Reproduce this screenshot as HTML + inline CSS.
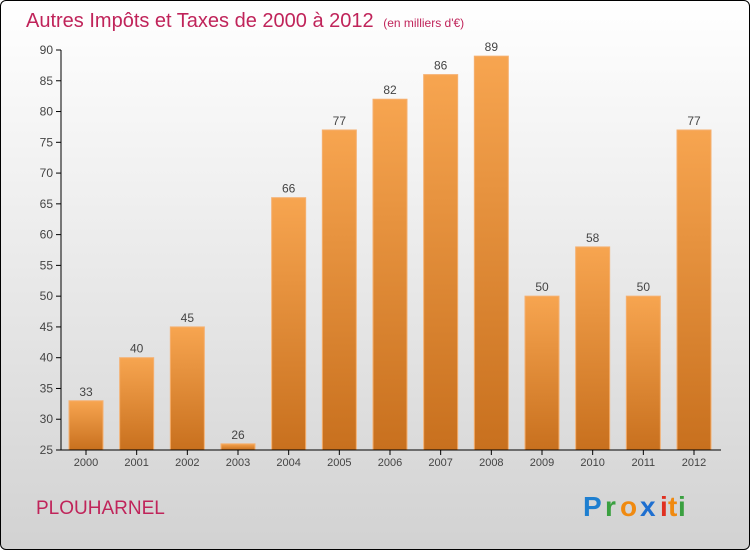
<!DOCTYPE html>
<html><head><meta charset="utf-8"><style>
body{margin:0;width:750px;height:550px;overflow:hidden;font-family:"Liberation Sans","DejaVu Sans",sans-serif}
#c{position:absolute;left:0;top:0;width:748px;height:548px;border:1px solid #000;border-radius:6px;background:linear-gradient(#ffffff,#f2f2f2 30%,#d2d2d2)}
</style></head><body>
<div id="c">
<svg width="750" height="550" style="position:absolute;left:-1px;top:-1px">
<defs><linearGradient id="g" x1="0" y1="0" x2="0" y2="1"><stop offset="0" stop-color="#f7a550"/><stop offset="1" stop-color="#c8701e"/></linearGradient></defs>
<text x="26" y="27" font-size="20" fill="#c0245a">Autres Impôts et Taxes de 2000 à 2012 <tspan font-size="12" dx="4">(en milliers d'€)</tspan></text>
<g id="plot"></g>
<text x="36" y="514" font-size="19" fill="#c0245a">PLOUHARNEL</text>
<g font-size="28" font-weight="bold">
<text x="583" y="516" fill="#1e7fd0">P</text><text x="605" y="516" fill="#3aa040">r</text><text x="620" y="516" fill="#f08a10">o</text><text x="640" y="516" fill="#1e6fd0">x</text><text x="660" y="516" fill="#e03020">i</text><text x="668" y="516" fill="#f08a10">t</text><text x="678" y="516" fill="#3aa040">i</text>
</g>
</svg></div>
<script>
const years=["2000","2001","2002","2003","2004","2005","2006","2007","2008","2009","2010","2011","2012"];
const values=[33,40,45,26,66,77,82,86,89,50,58,50,77];
const yTicks=[25,30,35,40,45,50,55,60,65,70,75,80,85,90];
const NS="http://www.w3.org/2000/svg";
const g=document.getElementById('plot');
const y=v=>450-(v-25)*400/65;
const x=i=>86+i*(608/12);
function el(t,a,txt){const e=document.createElementNS(NS,t);for(const k in a)e.setAttribute(k,a[k]);if(txt!==undefined)e.textContent=txt;g.appendChild(e);return e;}
yTicks.forEach(t=>{
 const l=el('line',{x1:56,x2:61,y1:y(t),y2:y(t),stroke:'#000'});
 
 
 const s=el('text',{x:53,y:y(t)+4,'font-size':12,fill:'#444','text-anchor':'end'},t);
 
 
});
values.forEach((v,i)=>{
 const r=el('rect',{x:x(i)-17,y:y(v),width:34,height:450-y(v),fill:'url(#g)',stroke:'#f5b070','stroke-width':1});
 
 
 const t=el('text',{x:x(i),y:y(v)-5,'font-size':12,fill:'#444','text-anchor':'middle'},v);
 
 
 const k=el('line',{x1:x(i),x2:x(i),y1:450,y2:455,stroke:'#000'});
 
 
 const xl=el('text',{x:x(i),y:466,'font-size':11,fill:'#444','text-anchor':'middle'},years[i]);
 
 
});
const ya=el('line',{x1:61,x2:61,y1:50,y2:450,stroke:'#000'});


const xa=el('line',{x1:61,x2:721,y1:450,y2:450,stroke:'#000'});


</script>
</body></html>
